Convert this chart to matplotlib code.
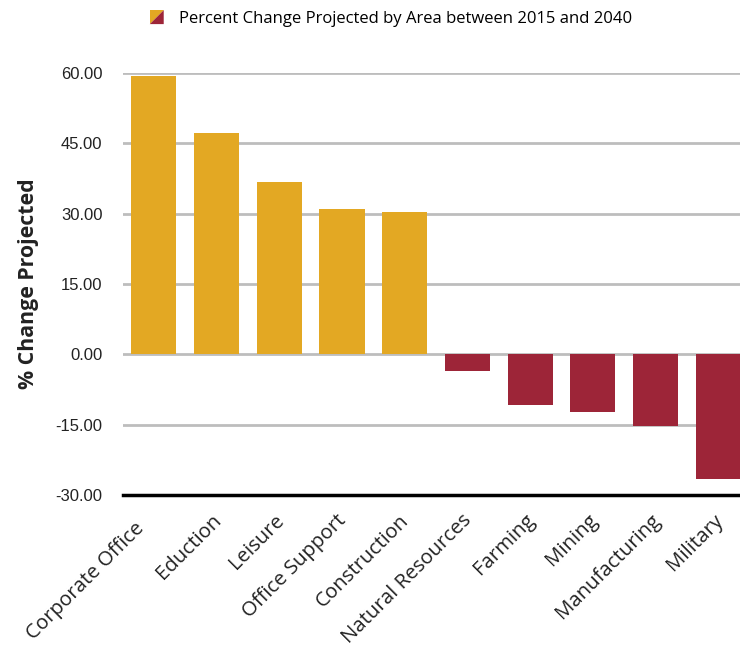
import numpy as np
import matplotlib
matplotlib.use('Agg')
import matplotlib.pyplot as plt
from matplotlib.patches import Polygon
from matplotlib.legend_handler import HandlerBase
from matplotlib.transforms import ScaledTranslation

categories = ['Corporate Office', 'Eduction', 'Leisure', 'Office Support',
              'Construction', 'Natural Resources', 'Farming', 'Mining',
              'Manufacturing', 'Military']
values = [59.4, 47.2, 36.8, 30.9, 30.4, -3.6, -10.9, -12.3, -15.3, -26.6]
yticks = [-30, -15, 0, 15, 30, 45, 60]
legend_label = 'Percent Change Projected by Area between 2015 and 2040'

pos_color = '#E3A823'
neg_color = '#9D2538'


class SplitHandler(HandlerBase):
    # swatch split diagonally: orange top-left, red bottom-right
    def create_artists(self, legend, orig_handle, xdescent, ydescent,
                       width, height, fontsize, trans):
        s = 10.0
        x0 = -xdescent + (width - s) / 2
        y0 = -ydescent + (height - s) / 2
        top = Polygon([[x0, y0], [x0, y0 + s], [x0 + s, y0 + s]],
                      closed=True, facecolor=pos_color, edgecolor='none',
                      transform=trans)
        bot = Polygon([[x0, y0], [x0 + s, y0 + s], [x0 + s, y0]],
                      closed=True, facecolor=neg_color, edgecolor='none',
                      transform=trans)
        return [top, bot]


fig = plt.figure(figsize=(7.4, 6.46), dpi=100)
ax = fig.add_axes([122.5 / 740, (646 - 495) / 646, (740 - 122.5) / 740,
                   (495 - 73) / 646])

x = np.arange(len(categories))
colors = [pos_color if v >= 0 else neg_color for v in values]
ax.bar(x, values, width=0.72, color=colors, zorder=3)

ax.set_ylim(-30, 60)
ax.set_xlim(-0.5, (740 - 154) / 62.7)
ax.set_yticks(yticks)
ax.set_yticklabels(['%.2f' % t for t in yticks], fontsize=12,
                   family='Liberation Sans', color='#222222')
for t in yticks:
    if t == -30:
        continue
    ax.axhline(t, color='#BDBDBD', lw=2, zorder=1)
ax.tick_params(axis='y', length=0, pad=14.5)
ax.tick_params(axis='x', length=0, pad=11)

for s in ['top', 'right', 'left']:
    ax.spines[s].set_visible(False)
ax.spines['bottom'].set_color('black')
ax.spines['bottom'].set_linewidth(2.5)
ax.spines['bottom'].set_zorder(4)

ax.set_xticks(x)
ax.set_xticklabels(categories, rotation=45, ha='right',
                   rotation_mode='anchor', fontsize=14.7,
                   family='Open Sans', color='#222222')
for i, lab in enumerate(ax.get_xticklabels()):
    # first label sits further lower-left in the original
    dx, dy = (-14, -6) if i == 0 else (-4, 0)
    lab.set_transform(lab.get_transform() +
                      ScaledTranslation(dx / 72, dy / 72, fig.dpi_scale_trans))

ax.set_ylabel('% Change Projected', fontsize=15.3, family='Open Sans',
              fontweight='bold', color='#222222')
ax.yaxis.set_label_coords(-0.136, 0.5)

handle = plt.Rectangle((0, 0), 1, 1)
fig.legend([handle], [legend_label], handler_map={plt.Rectangle: SplitHandler()},
           loc='center', bbox_to_anchor=(390 / 740, 1 - 19 / 646),
           frameon=False, prop={'family': 'Open Sans', 'size': 12},
           handlelength=1.1, handletextpad=0.8)

fig.savefig('out.png', dpi=100)
